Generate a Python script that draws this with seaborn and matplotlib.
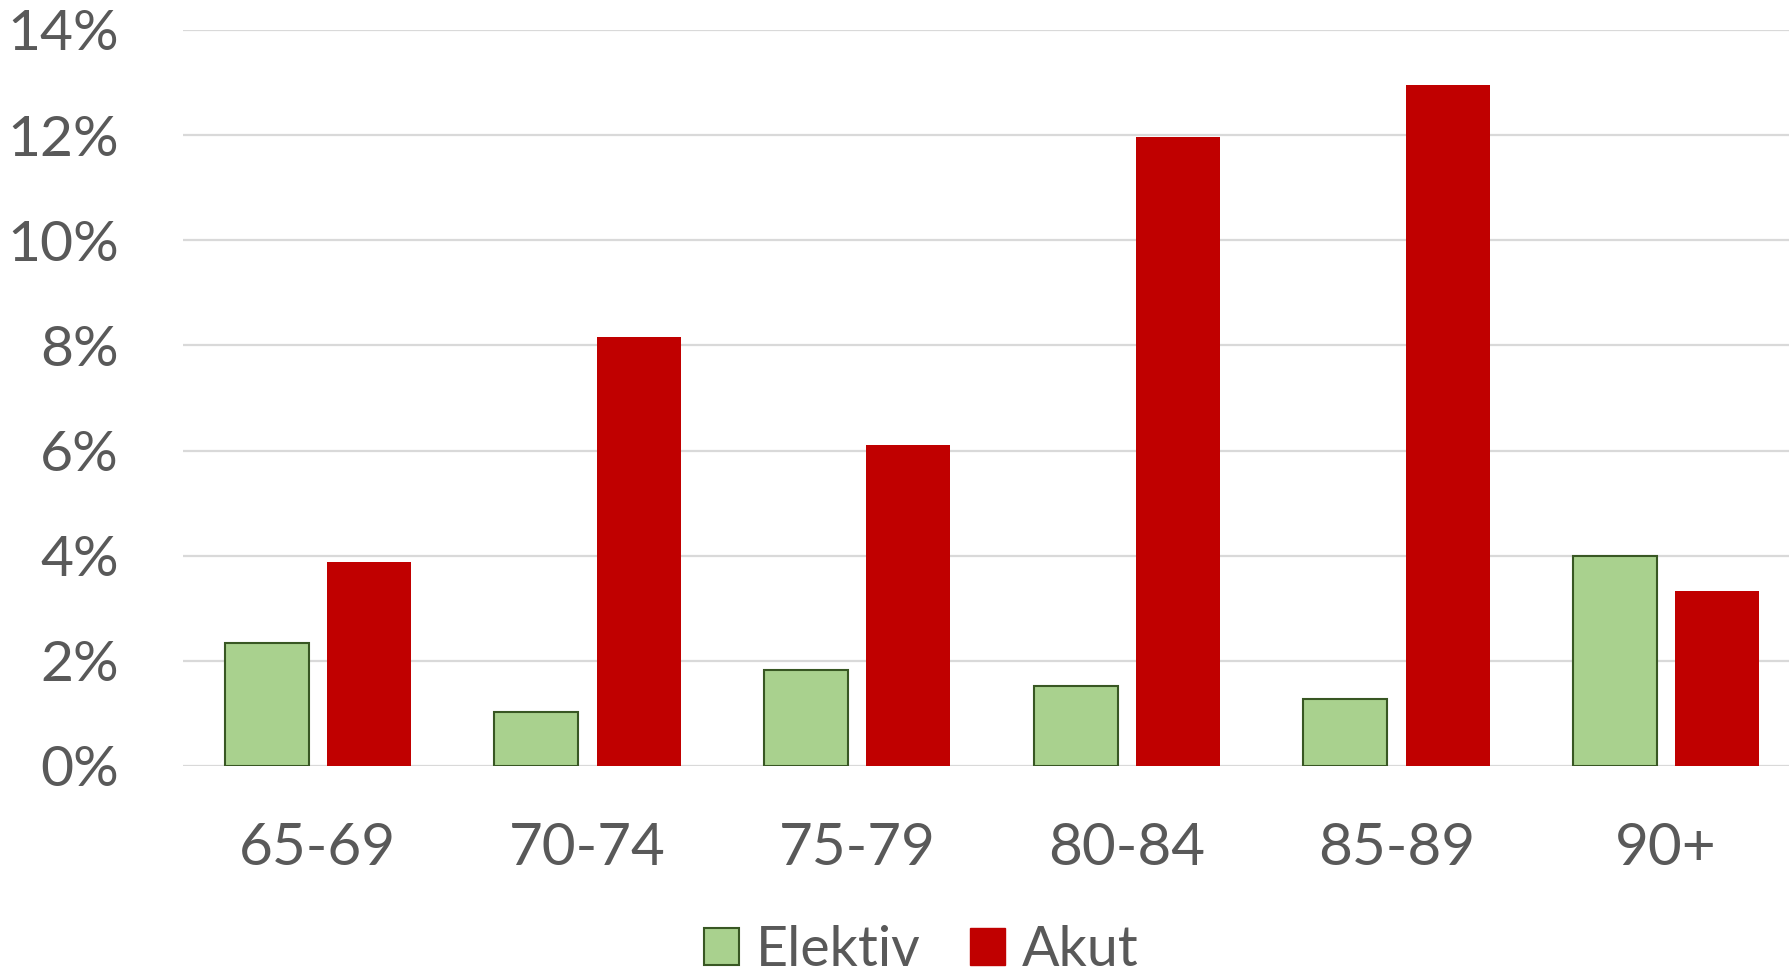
import matplotlib
matplotlib.use('Agg')
import matplotlib.pyplot as plt
from matplotlib.patches import Patch
from matplotlib.ticker import FuncFormatter
import pandas as pd
import seaborn as sns

# data (percent)
age_groups = ['65-69', '70-74', '75-79', '80-84', '85-89', '90+']
elektiv = [2.34, 1.03, 1.83, 1.52, 1.28, 3.99]
akut = [3.88, 8.16, 6.10, 11.96, 12.96, 3.33]

green = '#A9D18E'
green_edge = '#385723'
red = '#C00000'
text_col = '#595959'
grid_col = '#D9D9D9'

df = pd.DataFrame({
    'Ålder': age_groups * 2,
    'Andel': elektiv + akut,
    'Typ': ['Elektiv'] * len(age_groups) + ['Akut'] * len(age_groups),
})

sns.set_style('white')
plt.rcParams['font.family'] = ['Lato', 'DejaVu Sans']

fig = plt.figure(figsize=(17.89, 9.73), dpi=100)
# plot area runs slightly past the right edge of the figure, as in the original
ax = fig.add_axes([183 / 1789, 207 / 973, 1618 / 1789, (766 - 30) / 973])

sns.barplot(data=df, x='Ålder', y='Andel', hue='Typ', order=age_groups,
            hue_order=['Elektiv', 'Akut'], palette=[green, red],
            width=0.76, gap=0.18, saturation=1, legend=False, ax=ax, zorder=3)

# dark green outline on the Elektiv bars only
for bar in ax.containers[0]:
    bar.set_edgecolor(green_edge)
    bar.set_linewidth(1.5)
for bar in ax.containers[1]:
    bar.set_linewidth(0)

ax.set_xlim(-0.5, 5.5)
ax.set_ylim(0, 14)
ax.set_yticks(range(0, 15, 2))
ax.yaxis.set_major_formatter(FuncFormatter(lambda v, p: f'{v:.0f}%'))
ax.yaxis.grid(True, color=grid_col, linewidth=1.6, zorder=0)
ax.set_axisbelow(True)
for s in ax.spines.values():
    s.set_visible(False)
ax.set_xlabel('')
ax.set_ylabel('')
ax.tick_params(axis='y', length=0, pad=46, labelsize=41, labelcolor=text_col)
ax.tick_params(axis='x', length=0, pad=40, labelsize=42, labelcolor=text_col)

handles = [Patch(facecolor=green, edgecolor=green_edge, linewidth=1.5, label='Elektiv'),
           Patch(facecolor=red, edgecolor=red, label='Akut')]
fig.legend(handles=handles, loc='center', bbox_to_anchor=(0.515, 0.023), ncol=2,
           frameon=False, fontsize=40, labelcolor=text_col, handlelength=0.63,
           handleheight=0.63, handletextpad=0.3, columnspacing=0.9)

fig.savefig('out.png', dpi=100)
